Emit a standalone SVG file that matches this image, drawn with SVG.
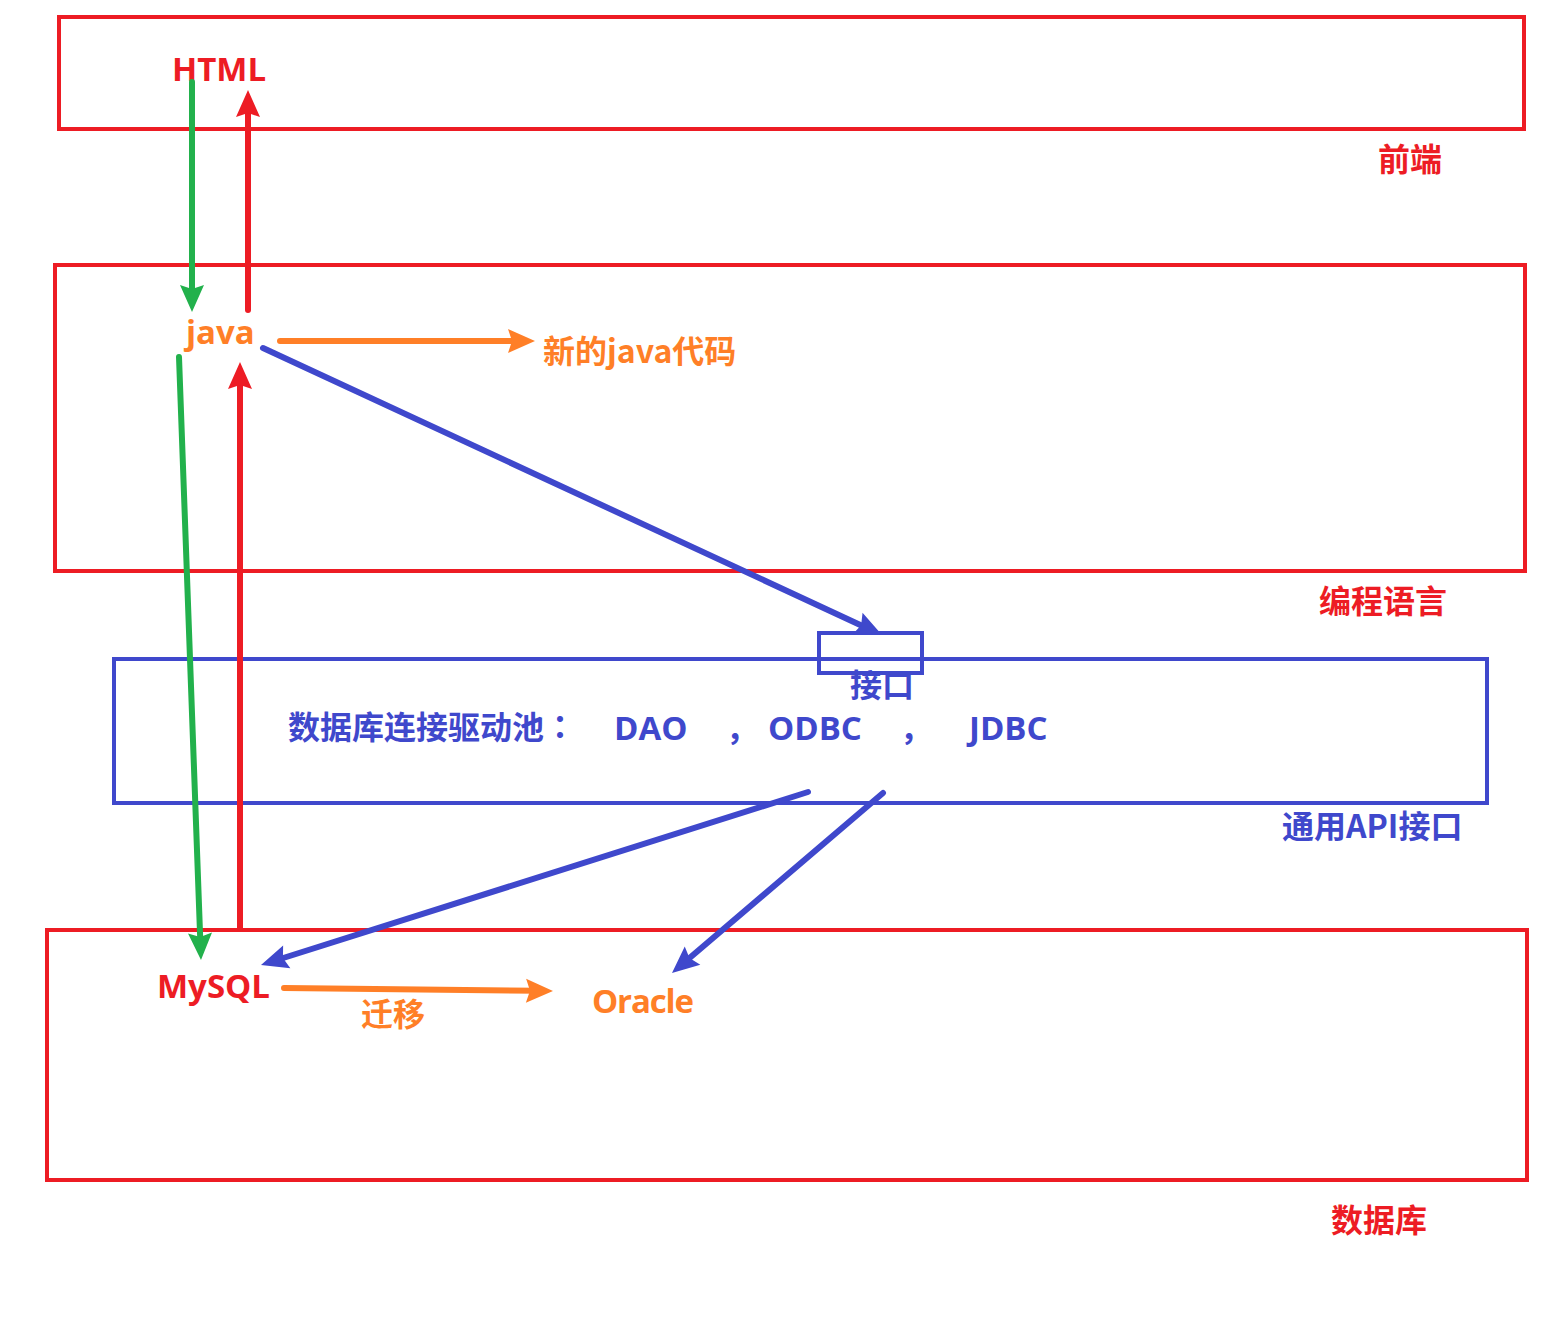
<svg xmlns="http://www.w3.org/2000/svg" width="1559" height="1330" viewBox="0 0 1559 1330">
<style>
.box{fill:none;stroke-width:4}
.r{stroke:#ED1C24}.b{stroke:#3F48CC}
.t{font-family:"Open Sans","Noto Sans CJK SC",sans-serif;font-weight:bold;font-size:33px}
.c{font-family:"Noto Sans CJK SC","Open Sans",sans-serif;font-weight:bold;font-size:32px}
.tc{font-family:"Noto Sans CJK TC","Noto Sans CJK SC",sans-serif}
.fr{fill:#ED1C24}.fo{fill:#FF7F27}.fb{fill:#3F48CC}
.a{fill:none;stroke-width:6;stroke-linecap:round}
</style>
<defs>
<marker id="mg" markerUnits="userSpaceOnUse" markerWidth="40" markerHeight="40" refX="0" refY="0" viewBox="-20 -20 40 40" orient="auto" overflow="visible"><path d="M-12,-12 L15,0 L-12,12 L-8,0 Z" fill="#22B14C"/></marker>
<marker id="mr" markerUnits="userSpaceOnUse" markerWidth="40" markerHeight="40" refX="0" refY="0" viewBox="-20 -20 40 40" orient="auto" overflow="visible"><path d="M-12,-12 L15,0 L-12,12 L-8,0 Z" fill="#ED1C24"/></marker>
<marker id="mo" markerUnits="userSpaceOnUse" markerWidth="40" markerHeight="40" refX="0" refY="0" viewBox="-20 -20 40 40" orient="auto" overflow="visible"><path d="M-12,-12 L15,0 L-12,12 L-8,0 Z" fill="#FF7F27"/></marker>
<marker id="mb" markerUnits="userSpaceOnUse" markerWidth="40" markerHeight="40" refX="0" refY="0" viewBox="-20 -20 40 40" orient="auto" overflow="visible"><path d="M-12,-12 L15,0 L-12,12 L-8,0 Z" fill="#3F48CC"/></marker>
</defs>
<g id="frontend">
<rect class="box r" x="59" y="17" width="1465" height="112"/>
<text class="c fr" x="1378" y="171">前端</text>
</g>
<g id="language">
<rect class="box r" x="55" y="265" width="1470" height="306"/>
<text class="c fr" x="1319" y="613">编程语言</text>
</g>
<g id="api">
<rect class="box b" x="114" y="659" width="1373" height="144"/>
<text class="c fb" x="1282" y="838">通用API接口</text>
<text class="c fb" x="288" y="739">数据库连接驱动池<tspan class="tc">：</tspan></text>
<text class="t fb" x="614" y="740">DAO</text>
<text class="c fb" x="726" y="740">，</text>
<text class="t fb" x="768" y="740">ODBC</text>
<text class="c fb" x="900" y="740">，</text>
<text class="t fb" x="969" y="740">JDBC</text>
</g>
<g id="interface">
<rect class="box b" x="819" y="633" width="103" height="40"/>
<text class="c fb" x="850" y="697">接口</text>
</g>
<g id="database">
<rect class="box r" x="47" y="930" width="1480" height="250"/>
<text class="c fr" x="1331" y="1232">数据库</text>
</g>
<g id="html"><text class="t fr" x="172" y="81">HTML</text></g>
<g id="java"><text class="t fo" x="186" y="344">java</text></g>
<g id="newjava"><text class="c fo" x="543" y="363">新的java代码</text></g>
<g id="mysql"><text class="t fr" x="157" y="998">MySQL</text></g>
<g id="oracle"><text class="t fo" x="592" y="1013" textLength="102">Oracle</text></g>
<g id="connectors">
<path class="a" stroke="#22B14C" d="M192,82 L192,297" marker-end="url(#mg)"/>
<path class="a" stroke="#ED1C24" d="M248,310 L248,105" marker-end="url(#mr)"/>
<path class="a" stroke="#FF7F27" d="M280,341 L520,341" marker-end="url(#mo)"/>
<path class="a" stroke="#3F48CC" d="M263,348 L868.4,628.7" marker-end="url(#mb)"/>
<path class="a" stroke="#22B14C" d="M179,357 L200.45,945" marker-end="url(#mg)"/>
<path class="a" stroke="#ED1C24" d="M240,928 L240,377" marker-end="url(#mr)"/>
<path class="a" stroke="#3F48CC" d="M808,792 L275.3,960.5" marker-end="url(#mb)"/>
<path class="a" stroke="#3F48CC" d="M883,793 L683.4,963.3" marker-end="url(#mb)"/>
<path class="a" stroke="#FF7F27" d="M284,988 L538,990.8" marker-end="url(#mo)"/>
<text class="c fo" x="361" y="1026">迁移</text>
</g>
</svg>
